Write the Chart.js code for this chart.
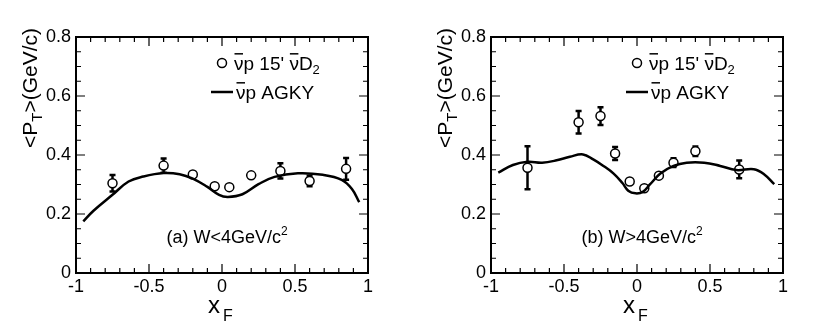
<!DOCTYPE html>
<html>
<head>
<meta charset="utf-8">
<script src="https://cdn.jsdelivr.net/npm/chart.js@4"></script>
<style>
  body { margin: 0; background: #fff; width: 830px; height: 336px; overflow: hidden; }
  .painel { position: absolute; top: 0; width: 415px; height: 336px; }
</style>
</head>
<body>
<div class="painel" style="left:0"><canvas id="graficoA" width="415" height="336"></canvas></div>
<div class="painel" style="left:415px"><canvas id="graficoB" width="415" height="336"></canvas></div>
<script>
// Eixos
const xTicks = [-1, -0.5, 0, 0.5, 1];
const xTickLabels = ['-1', '-0.5', '0', '0.5', '1'];
const yTicks = [0, 0.2, 0.4, 0.6, 0.8];
const yTickLabels = ['0', '0.2', '0.4', '0.6', '0.8'];

// (a) W<4GeV/c2 - dados
const xfDadosA = [-0.75, -0.4, -0.2, -0.05, 0.05, 0.2, 0.4, 0.6, 0.85];
const ptDadosA = [0.304, 0.364, 0.334, 0.294, 0.291, 0.331, 0.346, 0.312, 0.353];
const errDadosA = [0.028, 0.024, 0.008, 0, 0, 0, 0.026, 0.018, 0.037];
// (a) curva AGKY
const xfCurvaA = [-0.95, -0.88, -0.75, -0.64, -0.54, -0.4, -0.29, -0.2, -0.1, -0.02, 0.04, 0.14, 0.25, 0.36, 0.52, 0.69, 0.82, 0.89, 0.94];
const ptCurvaA = [0.175, 0.211, 0.265, 0.31, 0.327, 0.339, 0.335, 0.32, 0.292, 0.265, 0.258, 0.267, 0.301, 0.326, 0.338, 0.333, 0.316, 0.285, 0.24];

// (b) W>4GeV/c2 - dados
const xfDadosB = [-0.75, -0.4, -0.25, -0.15, -0.05, 0.05, 0.15, 0.25, 0.4, 0.7];
const ptDadosB = [0.357, 0.511, 0.532, 0.405, 0.31, 0.287, 0.33, 0.374, 0.413, 0.351];
const errDadosB = [0.073, 0.038, 0.03, 0.022, 0.008, 0.006, 0, 0.015, 0.016, 0.03];
// (b) curva AGKY
const xfCurvaB = [-0.95, -0.85, -0.75, -0.65, -0.55, -0.46, -0.37, -0.3, -0.23, -0.16, -0.1, -0.06, -0.01, 0.04, 0.09, 0.16, 0.25, 0.34, 0.46, 0.57, 0.68, 0.8, 0.87, 0.94];
const ptCurvaB = [0.34, 0.366, 0.377, 0.374, 0.382, 0.394, 0.402, 0.385, 0.363, 0.337, 0.305, 0.279, 0.27, 0.275, 0.301, 0.337, 0.363, 0.374, 0.374, 0.363, 0.349, 0.352, 0.335, 0.301];

const FONTE = '"Liberation Sans", Arial, sans-serif';

// Desenha texto com pedaços (subscrito, sobrescrito, barra)
function textoRico(ctx, x, y, partes, tam, medirSo) {
  let cx = x;
  partes.forEach(p => {
    const s = p.size || tam;
    ctx.font = s + 'px ' + FONTE;
    const w = ctx.measureText(p.t).width;
    if (!medirSo) {
      ctx.fillText(p.t, cx, y + (p.dy || 0));
      if (p.bar) {
        const yb = y - 0.72 * s - 2.5;
        ctx.beginPath();
        ctx.moveTo(cx + 0.5, yb);
        ctx.lineTo(cx + w - 0.5, yb);
        ctx.lineWidth = 1.5;
        ctx.stroke();
      }
    }
    cx += w;
  });
  return cx - x;
}

const molduraPlugin = {
  id: 'moldura',
  beforeDatasetsDraw(chart, args, opts) {
    // barras de erro
    const ctx = chart.ctx;
    const xs = chart.scales.x, ys = chart.scales.y;
    const ds = chart.data.datasets[1].data;
    ctx.save();
    ctx.strokeStyle = '#000';
    ctx.lineWidth = 2.5;
    ds.forEach((p, i) => {
      const e = opts.erros[i];
      if (!e) return;
      const px = xs.getPixelForValue(p.x);
      const y1 = ys.getPixelForValue(p.y + e);
      const y2 = ys.getPixelForValue(p.y - e);
      ctx.beginPath();
      ctx.moveTo(px, y1); ctx.lineTo(px, y2);
      ctx.moveTo(px - 3, y1); ctx.lineTo(px + 3, y1);
      ctx.moveTo(px - 3, y2); ctx.lineTo(px + 3, y2);
      ctx.stroke();
    });
    ctx.restore();
  },
  afterDraw(chart, args, opts) {
    const ctx = chart.ctx;
    const a = chart.chartArea;
    const xs = chart.scales.x, ys = chart.scales.y;
    ctx.save();
    ctx.strokeStyle = '#000';
    ctx.fillStyle = '#000';

    // moldura
    ctx.lineWidth = 2;
    ctx.strokeRect(a.left, a.top, a.right - a.left, a.bottom - a.top);

    // marcas internas
    ctx.lineWidth = 1.2;
    ctx.beginPath();
    for (let k = -10; k <= 10; k++) {
      const px = xs.getPixelForValue(k / 10);
      const L = (k % 5 === 0) ? 9 : 5;
      ctx.moveTo(px, a.bottom); ctx.lineTo(px, a.bottom - L);
      ctx.moveTo(px, a.top); ctx.lineTo(px, a.top + L);
    }
    for (let k = 0; k <= 16; k++) {
      const py = ys.getPixelForValue(k * 0.05);
      const L = (k % 4 === 0) ? 9 : 5;
      ctx.moveTo(a.left, py); ctx.lineTo(a.left + L, py);
      ctx.moveTo(a.right, py); ctx.lineTo(a.right - L, py);
    }
    ctx.stroke();

    // rótulos dos eixos
    ctx.font = '18px ' + FONTE;
    ctx.textAlign = 'center';
    ctx.textBaseline = 'top';
    xTicks.forEach((v, i) => ctx.fillText(xTickLabels[i], xs.getPixelForValue(v), a.bottom + 5));
    ctx.textAlign = 'right';
    ctx.textBaseline = 'middle';
    yTicks.forEach((v, i) => ctx.fillText(yTickLabels[i], a.left - 5, ys.getPixelForValue(v)));

    // títulos
    ctx.textAlign = 'left';
    ctx.textBaseline = 'alphabetic';
    ctx.font = '24px ' + FONTE;
    ctx.fillText('x', 208, 313);
    ctx.font = '16px ' + FONTE;
    ctx.fillText('F', 223, 321);

    ctx.save();
    ctx.translate(37, 148);
    ctx.rotate(-Math.PI / 2);
    textoRico(ctx, 0, 0, [{ t: '<P' }, { t: 'T', size: 15, dy: 5 }, { t: '>(GeV/c)' }], 21);
    ctx.restore();

    // legenda
    ctx.lineWidth = 1.5;
    ctx.beginPath();
    ctx.arc(222, 63, 4.5, 0, Math.PI * 2);
    ctx.stroke();
    textoRico(ctx, 234, 70, [{ t: 'ν', bar: true }, { t: 'p 15\' ' }, { t: 'ν', bar: true }, { t: 'D' }, { t: '2', size: 13, dy: 4 }], 19);
    ctx.lineWidth = 2.5;
    ctx.beginPath();
    ctx.moveTo(211, 92); ctx.lineTo(233, 92);
    ctx.stroke();
    textoRico(ctx, 236, 99, [{ t: 'ν', bar: true }, { t: 'p AGKY' }], 19);

    // rótulo do painel
    const partes = [{ t: opts.rotulo }, { t: '2', size: 12, dy: -8 }];
    const w = textoRico(ctx, 0, 0, partes, 18, true);
    textoRico(ctx, 227 - w / 2, 243, partes, 18);

    ctx.restore();
  }
};

function criarPainel(id, xfCurva, ptCurva, xfDados, ptDados, errDados, rotulo) {
  const ctx = document.getElementById(id).getContext('2d');
  return new Chart(ctx, {
    type: 'scatter',
    data: {
      datasets: [{
        label: 'AGKY',
        data: xfCurva.map((x, i) => ({ x: x, y: ptCurva[i] })),
        showLine: true,
        borderColor: '#000',
        borderWidth: 2.5,
        pointRadius: 0,
        tension: 0.4,
        fill: false
      }, {
        label: 'dados',
        data: xfDados.map((x, i) => ({ x: x, y: ptDados[i] })),
        pointRadius: 4.5,
        pointBorderWidth: 1.5,
        pointBackgroundColor: '#fff',
        pointBorderColor: '#000'
      }]
    },
    options: {
      responsive: false,
      animation: false,
      layout: { padding: { left: 76, right: 47, top: 37, bottom: 63 } },
      scales: {
        x: { type: 'linear', min: -1, max: 1, display: false },
        y: { type: 'linear', min: 0, max: 0.8, display: false }
      },
      plugins: {
        legend: { display: false },
        tooltip: { enabled: false },
        moldura: { erros: errDados, rotulo: rotulo }
      }
    },
    plugins: [molduraPlugin]
  });
}

criarPainel('graficoA', xfCurvaA, ptCurvaA, xfDadosA, ptDadosA, errDadosA, '(a) W<4GeV/c');
criarPainel('graficoB', xfCurvaB, ptCurvaB, xfDadosB, ptDadosB, errDadosB, '(b) W>4GeV/c');
</script>
</body>
</html>
